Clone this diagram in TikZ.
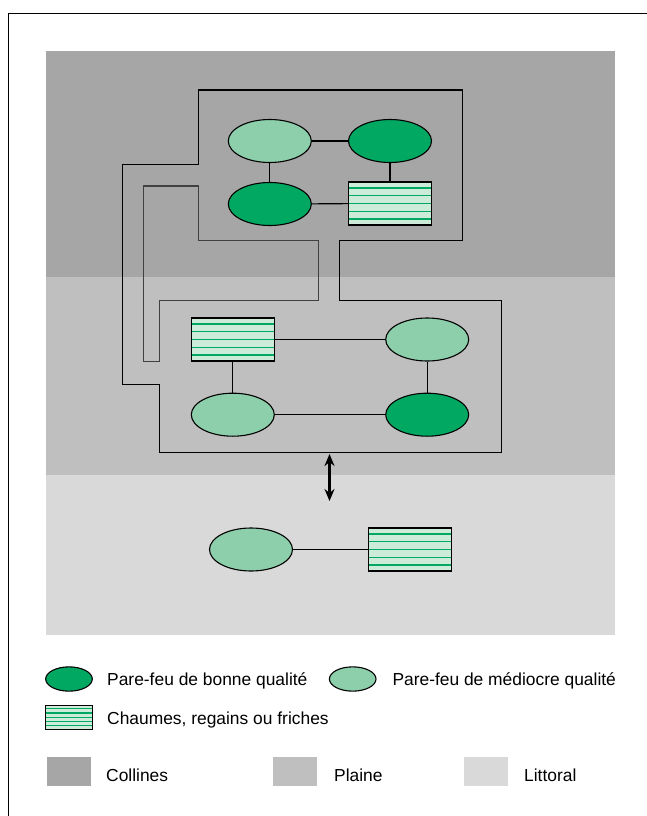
\documentclass[tikz,border=0pt]{standalone}
\usepackage{fontspec}
\setmainfont{Liberation Sans}
\usepackage{tikz}
\usetikzlibrary{calc}
\usetikzlibrary{shapes.geometric}
\usetikzlibrary{arrows.meta,positioning}

\definecolor{collines}{HTML}{A6A6A6}
\definecolor{plaine}{HTML}{BFBFBF}
\definecolor{littoral}{HTML}{D9D9D9}
\definecolor{bonvert}{HTML}{00A862}
\definecolor{mediovert}{HTML}{8CCFAA}
\definecolor{chaumefond}{HTML}{CDEBD9}

\tikzset{
	bonne/.style={ellipse,draw,line width=1.1pt,fill=bonvert,inner sep=0pt,minimum width=83pt,minimum height=43pt},
	mediocre/.style={ellipse,draw,line width=1.1pt,fill=mediovert,inner sep=0pt,minimum width=83pt,minimum height=43pt},
	chaume/.style={draw,line width=1.1pt,fill=chaumefond,inner sep=0pt,minimum width=83pt,minimum height=43pt,
		path picture={\foreach \f in {0.14,0.32,0.5,0.68,0.86}
			\draw[bonvert,line width=1.1pt] ($(path picture bounding box.north west)!\f!(path picture bounding box.south west)$) -- ($(path picture bounding box.north east)!\f!(path picture bounding box.south east)$);}},
	lien/.style={line width=1.1pt},
	couloir/.style={line width=1.1pt},
	legende/.style={anchor=base west,inner sep=0pt,font=\fontsize{17.4}{20}\selectfont},
	zone/.style={inner sep=0pt,minimum width=44pt,minimum height=29pt}
}

\begin{document}
\begin{tikzpicture}[x=1pt,y=-1pt]
	\useasboundingbox (0,0) rectangle (647,816);
	% cadre
	\draw[line width=1.4pt] (8.7,816) -- (8.7,13.3) -- (647,13.3);
	% zones
	\fill[collines] (46,51) rectangle (615,277);
	\fill[plaine] (46,277) rectangle (615,475);
	\fill[littoral] (46,475) rectangle (615,634.5);
	% couloir
	\draw[couloir] (198.3,90) -- (462.3,90) -- (462.3,240.3) -- (339.7,240.3) -- (339.7,300.7) -- (501.3,300.7) -- (501.3,452.3) -- (159.7,452.3) -- (159.7,384.3) -- (122.3,384.3) -- (122.3,164.3) -- (198.3,164.3) -- cycle;
	\draw[couloir,black!75] (143.7,186) -- (198.3,186) -- (198.3,240.3) -- (318.7,240.3) -- (318.7,300.7) -- (159.7,300.7) -- (159.7,361.3) -- (143.7,361.3) -- cycle;
	% collines
	\node[mediocre] (c1) at (269.8,141) {};
	\node[bonne] (c2) at (390,141) {};
	\node[bonne] (c3) at (269.8,204) {};
	\node[chaume] (c4) at (390,203.5) {};
	\draw[lien] (c1) -- (c2);
	\draw[lien] (c1) -- (c3);
	\draw[lien] (c2) -- (c4);
	\draw[lien] (c3) -- (c4);
	% plaine
	\node[chaume] (p1) at (232.8,339.5) {};
	\node[mediocre] (p2) at (427.2,339.5) {};
	\node[mediocre] (p3) at (232.8,414.7) {};
	\node[bonne] (p4) at (427.2,414.7) {};
	\draw[lien] (p1) -- (p2);
	\draw[lien] (p1) -- (p3);
	\draw[lien] (p2) -- (p4);
	\draw[lien] (p3) -- (p4);
	% littoral
	\node[mediocre] (l1) at (251,549.5) {};
	\node[chaume] (l2) at (410,549.5) {};
	\draw[lien] (l1) -- (l2);
	% echange
	\coordinate (haut) at (329.5,454);
	\coordinate (bas) at (329.5,501);
	\draw[line width=2.2pt,{Stealth[length=12pt,width=10pt]}-{Stealth[length=12pt,width=10pt]}] (haut) -- (bas);
	% legende
	\node[bonne,minimum width=46.6pt,minimum height=24.3pt] (lgbonne) at (69,679) {};
	\node[legende] (txbonne) at (107,685) {Pare-feu de bonne qualité};
	\node[mediocre,minimum width=46.6pt,minimum height=24.3pt] (lgmedio) at (352.7,679) {};
	\node[legende] (txmedio) at (392.3,685) {Pare-feu de médiocre qualité};
	\node[chaume,minimum width=46.6pt,minimum height=24pt] (lgchaume) at (69,717.3) {};
	\node[legende] (txchaume) at (107,724) {Chaumes, regains ou friches};
	\node[zone,fill=collines] (lgcoll) at (69,771.3) {};
	\node[legende] (txcoll) at (106,781.5) {Collines};
	\node[zone,fill=plaine] (lgplaine) at (295,771.3) {};
	\node[legende] (txplaine) at (334,781.5) {Plaine};
	\node[zone,fill=littoral] (lglitt) at (485.5,771.3) {};
	\node[legende] (txlitt) at (524,781.5) {Littoral};
\end{tikzpicture}
\end{document}
